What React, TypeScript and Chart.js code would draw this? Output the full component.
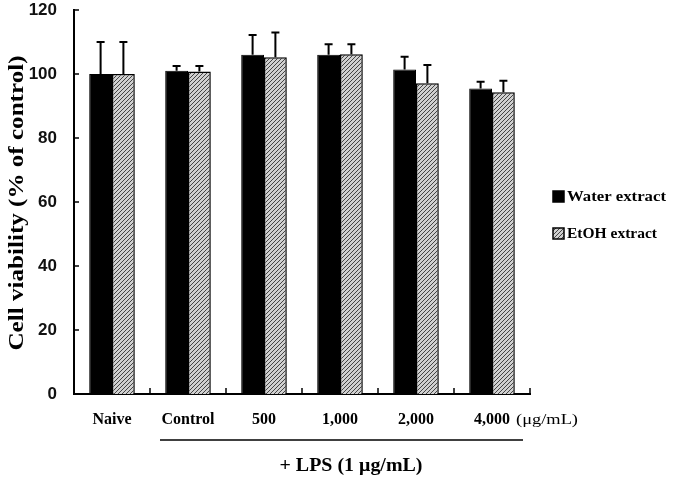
import React, { useEffect, useRef } from "react";
import { Chart, registerables } from "chart.js";

Chart.register(...registerables);

const categories = ["Naive", "Control", "500", "1,000", "2,000", "4,000"];
const waterValues = [100, 101, 106, 106, 101.4, 95.5];
const waterErrors = [10, 1.5, 6.2, 3.3, 4, 2.1];
const etohValues = [100, 100.8, 105.2, 106.2, 97.1, 94.3];
const etohErrors = [10, 1.7, 7.8, 3.1, 5.7, 3.6];
const yTicks = [0, 20, 40, 60, 80, 100, 120];
const seriesNames = ["Water extract", "EtOH extract"];

const FONT = "'Liberation Serif', 'DejaVu Serif', serif";
const SANS = "'Liberation Sans', Arial, sans-serif";

function makePattern(): CanvasPattern | string {
  const c = document.createElement("canvas");
  c.width = 4;
  c.height = 4;
  const g = c.getContext("2d");
  if (!g) return "#999";
  g.fillStyle = "#d0d0d0";
  g.fillRect(0, 0, 4, 4);
  g.strokeStyle = "#444";
  g.lineWidth = 1;
  g.beginPath();
  g.moveTo(0, 4);
  g.lineTo(4, 0);
  g.moveTo(-1, 1);
  g.lineTo(1, -1);
  g.moveTo(3, 5);
  g.lineTo(5, 3);
  g.stroke();
  const ctx = document.createElement("canvas").getContext("2d");
  const p = ctx ? ctx.createPattern(c, "repeat") : null;
  return p || "#999";
}

function fitText(ctx: CanvasRenderingContext2D, text: string, x: number, y: number, width: number, align: "left" | "center") {
  const w = ctx.measureText(text).width;
  const s = width / w;
  ctx.save();
  ctx.translate(x, y);
  ctx.scale(s, 1);
  ctx.textAlign = align;
  ctx.fillText(text, 0, 0);
  ctx.restore();
}

export default function App() {
  const ref = useRef<HTMLCanvasElement | null>(null);

  useEffect(() => {
    if (!ref.current) return;
    const pattern = makePattern();
    const errs = [waterErrors, etohErrors];

    const decor = {
      id: "decor",
      afterDatasetsDraw(chart: any) {
        const ctx = chart.ctx;
        const y = chart.scales.y;
        const x = chart.scales.x;
        ctx.save();
        // error bars
        ctx.strokeStyle = "#000";
        ctx.lineWidth = 2;
        chart.data.datasets.forEach((ds: any, di: number) => {
          const meta = chart.getDatasetMeta(di);
          meta.data.forEach((bar: any, i: number) => {
            const top = y.getPixelForValue(ds.data[i]);
            const end = y.getPixelForValue(ds.data[i] + errs[di][i]);
            ctx.beginPath();
            ctx.moveTo(bar.x, top);
            ctx.lineTo(bar.x, end);
            ctx.moveTo(bar.x - 4, end);
            ctx.lineTo(bar.x + 4, end);
            ctx.stroke();
          });
        });
        // y ticks
        ctx.lineWidth = 1.5;
        yTicks.forEach((v) => {
          const py = y.getPixelForValue(v);
          ctx.beginPath();
          ctx.moveTo(x.left, py);
          ctx.lineTo(x.left + 5, py);
          ctx.stroke();
        });
        // x ticks at category boundaries
        const step = x.getPixelForValue(1) - x.getPixelForValue(0);
        for (let i = 0; i < categories.length; i++) {
          const px = x.getPixelForValue(i) + step / 2;
          ctx.beginPath();
          ctx.moveTo(px, y.bottom);
          ctx.lineTo(px, y.bottom - 6);
          ctx.stroke();
        }
        ctx.fillStyle = "#000";
        ctx.textBaseline = "middle";
        // unit label
        ctx.font = `15px ${FONT}`;
        const lastX = x.getPixelForValue(categories.length - 1);
        fitText(ctx, "(\u03bcg/mL)", lastX + 24, 420, 62, "left");
        // LPS underline
        ctx.lineWidth = 1.5;
        ctx.beginPath();
        ctx.moveTo(160, 440);
        ctx.lineTo(523, 440);
        ctx.stroke();
        ctx.font = `bold 18px ${FONT}`;
        fitText(ctx, "+ LPS (1 \u03bcg/mL)", 351, 466, 143, "center");
        // y title
        ctx.save();
        ctx.translate(18, 203);
        ctx.rotate(-Math.PI / 2);
        ctx.font = `bold 20px ${FONT}`;
        fitText(ctx, "Cell viability (% of control)", 0, 0, 295, "center");
        ctx.restore();
        // legend
        const lx = 553;
        const rows = [197, 234];
        rows.forEach((ry, i) => {
          ctx.fillStyle = i === 0 ? "#000" : pattern;
          ctx.fillRect(lx, ry - 6, 11, 11);
          ctx.strokeStyle = "#000";
          ctx.lineWidth = 1.5;
          ctx.strokeRect(lx, ry - 6, 11, 11);
          ctx.fillStyle = "#000";
          ctx.font = `bold 15px ${FONT}`;
          fitText(ctx, seriesNames[i], lx + 14, ry, i === 0 ? 99 : 90, "left");
        });
        ctx.restore();
      },
    };

    const chart = new Chart(ref.current, {
      type: "bar",
      data: {
        labels: categories,
        datasets: [
          {
            label: seriesNames[0],
            data: waterValues,
            backgroundColor: "#000",
            borderColor: "#000",
            borderWidth: 1,
            categoryPercentage: 0.6,
            barPercentage: 1.0,
          },
          {
            label: seriesNames[1],
            data: etohValues,
            backgroundColor: pattern as any,
            borderColor: "#000",
            borderWidth: 1.5,
            categoryPercentage: 0.6,
            barPercentage: 1.0,
          },
        ],
      },
      options: {
        animation: false,
        responsive: false,
        layout: { padding: { left: 0, right: 145, top: 10, bottom: 0 } },
        plugins: { legend: { display: false }, tooltip: { enabled: false } },
        scales: {
          x: {
            grid: { display: false, drawTicks: false },
            border: { display: true, color: "#000", width: 2 },
            ticks: {
              color: "#000",
              font: { family: FONT, size: 16, weight: "bold" },
              padding: 16,
              maxRotation: 0,
            },
            afterFit(scale: any) {
              scale.height = 91;
              scale.paddingLeft = 0;
              scale.paddingRight = 0;
            },
          },
          y: {
            min: 0,
            max: 120,
            grid: { display: false, drawTicks: false },
            border: { display: true, color: "#000", width: 2 },
            ticks: {
              stepSize: 20,
              color: "#111",
              font: { family: SANS, size: 17, weight: "bold" },
              padding: 17,
            },
            afterFit(scale: any) {
              scale.width = 74;
              scale.paddingTop = 0;
              scale.paddingBottom = 0;
            },
          },
        },
      },
      plugins: [decor],
    });
    return () => chart.destroy();
  }, []);

  return (
    <div style={{ position: "fixed", left: 0, top: 0, width: 675, height: 485, background: "#fff" }}>
      <canvas ref={ref} width={675} height={485} style={{ display: "block" }} />
    </div>
  );
}
